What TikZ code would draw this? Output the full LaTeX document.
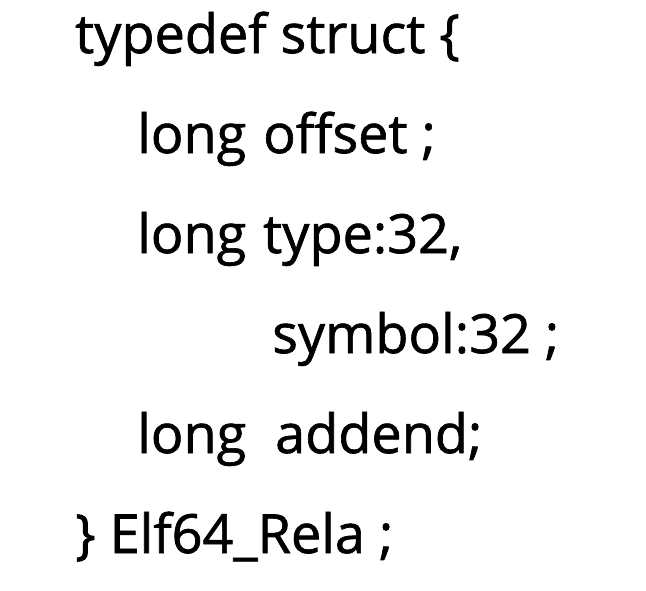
\documentclass[tikz,border=0pt]{standalone}
\usepackage{fontspec}
\setmainfont{Open Sans}
\newfontfamily\codefont{Open Sans}[FakeBold=1.2]
\usepackage{tikz}

\tikzset{
  code/.style={anchor=base west, inner sep=0pt, font=\codefont\fontsize{54}{62}\selectfont}
}

\begin{document}
\begin{tikzpicture}[x=1pt,y=-1pt]
  \useasboundingbox (0,0) rectangle (646,590);
  % line by line, base lines
  \node[code] (l0) at (75,53) {typedef struct \{};
  \node[code] (l1) at (137,153) {long};
  \node[code] (l1b) at (263,153) {offset ;};
  \node[code] (l2) at (137,253) {long};
  \node[code] (l2b) at (263,253) {type:32,};
  \node[code] (l3) at (272,353) {symbol:32 ;};
  \node[code] (l4) at (137,453) {long};
  \node[code] (l4b) at (275,453) {addend;};
  \node[code] (l5) at (75,553) {\} Elf64\_Rela ;};
\end{tikzpicture}
\end{document}
